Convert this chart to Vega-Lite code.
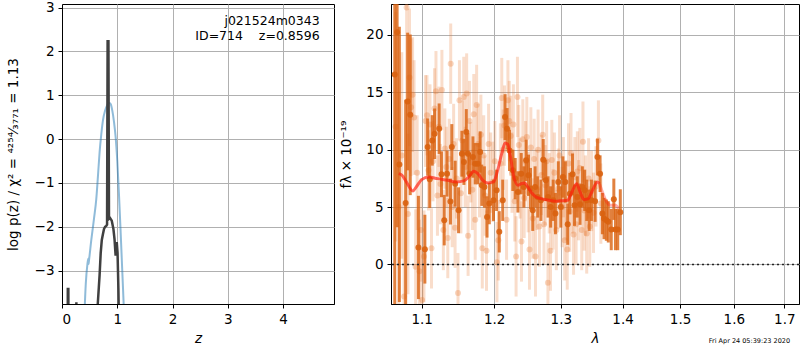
{
  "$schema": "https://vega.github.io/schema/vega-lite/v6.json",
  "background": "white",
  "padding": {"left": 5, "top": 0, "right": 0, "bottom": 0},
  "spacing": 57,
  "bounds": "flush",
  "config": {
    "font": "DejaVu Sans",
    "view": {"stroke": "black", "strokeWidth": 1},
    "axis": {
      "grid": true, "gridColor": "#b0b0b0", "gridWidth": 1,
      "domain": true, "domainColor": "black",
      "tickColor": "black", "tickSize": 4, "tickWidth": 1,
      "labelFont": "DejaVu Sans", "labelFontSize": 13.5, "labelColor": "black", "labelPadding": 4,
      "titleFont": "DejaVu Sans", "titleFontSize": 13.5, "titleFontWeight": "normal", "titleColor": "black"
    }
  },
  "datasets": {
    "chi2": [
      {"z": 0.40, "lp": -4.2}, {"z": 0.43, "lp": -3.3}, {"z": 0.46, "lp": -2.85}, {"z": 0.475, "lp": -2.73},
      {"z": 0.48, "lp": -2.85}, {"z": 0.49, "lp": -2.75}, {"z": 0.53, "lp": -2.3}, {"z": 0.58, "lp": -1.8},
      {"z": 0.62, "lp": -1.37}, {"z": 0.65, "lp": -0.85}, {"z": 0.68, "lp": -0.3}, {"z": 0.71, "lp": 0.1},
      {"z": 0.74, "lp": 0.42}, {"z": 0.78, "lp": 0.65}, {"z": 0.82, "lp": 0.78}, {"z": 0.85, "lp": 0.83},
      {"z": 0.88, "lp": 0.8}, {"z": 0.91, "lp": 0.65}, {"z": 0.94, "lp": 0.4}, {"z": 0.97, "lp": 0.05},
      {"z": 1.0, "lp": -0.5}, {"z": 1.03, "lp": -1.25}, {"z": 1.06, "lp": -2.1}, {"z": 1.09, "lp": -3.0},
      {"z": 1.12, "lp": -3.9}, {"z": 1.15, "lp": -4.8}
    ],
    "pz": [
      {"z": 0.0, "lp": -10}, {"z": 0.095, "lp": -10}, {"z": 0.105, "lp": -3.42}, {"z": 0.115, "lp": -3.42},
      {"z": 0.125, "lp": -10}, {"z": 0.24, "lp": -10}, {"z": 0.26, "lp": -3.72}, {"z": 0.28, "lp": -10},
      {"z": 0.6, "lp": -10}, {"z": 0.64, "lp": -3.9}, {"z": 0.68, "lp": -3.1}, {"z": 0.70, "lp": -2.6},
      {"z": 0.72, "lp": -2.3}, {"z": 0.74, "lp": -2.17}, {"z": 0.76, "lp": -2.05}, {"z": 0.78, "lp": -2.0},
      {"z": 0.80, "lp": -1.98}, {"z": 0.815, "lp": -1.95}, {"z": 0.825, "lp": 2.23}, {"z": 0.84, "lp": 2.23},
      {"z": 0.85, "lp": -1.82}, {"z": 0.87, "lp": -1.8}, {"z": 0.90, "lp": -1.86}, {"z": 0.93, "lp": -2.05},
      {"z": 0.95, "lp": -2.28}, {"z": 0.97, "lp": -2.66}, {"z": 0.98, "lp": -2.4}, {"z": 0.99, "lp": -2.35},
      {"z": 1.005, "lp": -2.6}, {"z": 1.02, "lp": -3.4}, {"z": 1.04, "lp": -5}, {"z": 1.2, "lp": -10},
      {"z": 5.0, "lp": -10}
    ],
    "labels": [
      {"z": 4.66, "lp": 2.69, "text": "j021524m0343"},
      {"z": 4.66, "lp": 2.355, "text": "ID=714\u00a0\u00a0\u00a0\u00a0z=0.8596"}
    ],
    "dark": [
      {"lam": 1.065, "f": 16.55, "e": 20}, {"lam": 1.068, "f": 20.23, "e": 17}, {"lam": 1.0709, "f": 8.72, "e": 12},
      {"lam": 1.079, "f": 5.36, "e": 9}, {"lam": 1.0816, "f": 14.2, "e": 6}, {"lam": 1.085, "f": 13.04, "e": 7},
      {"lam": 1.0957, "f": 1.48, "e": 4.5}, {"lam": 1.1042, "f": 1.33, "e": 3}, {"lam": 1.1079, "f": 10.23, "e": 2.5},
      {"lam": 1.1107, "f": 7.42, "e": 2.5}, {"lam": 1.114, "f": 10.81, "e": 2.2}, {"lam": 1.1172, "f": 11.39, "e": 2.2},
      {"lam": 1.1233, "f": 11.83, "e": 2.2}, {"lam": 1.1265, "f": 7.86, "e": 2}, {"lam": 1.1302, "f": 3.86, "e": 2.2},
      {"lam": 1.134, "f": 7.91, "e": 2}, {"lam": 1.1386, "f": 5.48, "e": 2}, {"lam": 1.1405, "f": 10.23, "e": 2},
      {"lam": 1.1451, "f": 7.04, "e": 2}, {"lam": 1.1498, "f": 4.72, "e": 2}, {"lam": 1.1544, "f": 9.65, "e": 2},
      {"lam": 1.1572, "f": 8.93, "e": 2}, {"lam": 1.1605, "f": 11.54, "e": 2}, {"lam": 1.1628, "f": 9.65, "e": 1.8},
      {"lam": 1.1651, "f": 7.91, "e": 1.8}, {"lam": 1.1698, "f": 9.36, "e": 1.8}, {"lam": 1.173, "f": 8.78, "e": 1.8},
      {"lam": 1.1767, "f": 8.78, "e": 1.8}, {"lam": 1.18, "f": 9.8, "e": 1.8}, {"lam": 1.1823, "f": 6.9, "e": 1.8},
      {"lam": 1.186, "f": 6.75, "e": 1.8}, {"lam": 1.1898, "f": 4.14, "e": 1.8}, {"lam": 1.193, "f": 5.3, "e": 1.8},
      {"lam": 1.199, "f": 5.59, "e": 1.8}, {"lam": 1.2035, "f": 6.46, "e": 1.8}, {"lam": 1.2074, "f": 2.84, "e": 1.8},
      {"lam": 1.2124, "f": 5.59, "e": 1.8}, {"lam": 1.2158, "f": 12.84, "e": 2}, {"lam": 1.2188, "f": 11.83, "e": 1.8},
      {"lam": 1.2223, "f": 9.94, "e": 1.8}, {"lam": 1.2272, "f": 8.2, "e": 1.8}, {"lam": 1.2307, "f": 7.48, "e": 1.8},
      {"lam": 1.2347, "f": 6.32, "e": 1.8}, {"lam": 1.2396, "f": 7.91, "e": 1.8}, {"lam": 1.2436, "f": 6.75, "e": 1.8},
      {"lam": 1.247, "f": 9.07, "e": 1.8}, {"lam": 1.2505, "f": 7.77, "e": 1.8}, {"lam": 1.2535, "f": 6.61, "e": 1.8},
      {"lam": 1.2569, "f": 4.72, "e": 1.8}, {"lam": 1.2604, "f": 6.75, "e": 1.8}, {"lam": 1.2644, "f": 5.88, "e": 1.8},
      {"lam": 1.2693, "f": 5.59, "e": 1.8}, {"lam": 1.2728, "f": 9.13, "e": 1.8}, {"lam": 1.2767, "f": 7.33, "e": 1.8},
      {"lam": 1.2802, "f": 5.88, "e": 1.8}, {"lam": 1.2842, "f": 5.01, "e": 1.8}, {"lam": 1.2881, "f": 5.59, "e": 1.8},
      {"lam": 1.2916, "f": 4.43, "e": 1.8}, {"lam": 1.296, "f": 7.19, "e": 1.8}, {"lam": 1.3, "f": 5.01, "e": 1.8},
      {"lam": 1.3032, "f": 7.62, "e": 1.8}, {"lam": 1.307, "f": 7.19, "e": 1.8}, {"lam": 1.3108, "f": 3.51, "e": 1.8},
      {"lam": 1.3141, "f": 6.17, "e": 1.8}, {"lam": 1.3184, "f": 7.86, "e": 1.8}, {"lam": 1.3216, "f": 5.16, "e": 1.8},
      {"lam": 1.3259, "f": 5.88, "e": 1.8}, {"lam": 1.3303, "f": 5.25, "e": 1.8}, {"lam": 1.3341, "f": 6.75, "e": 1.8},
      {"lam": 1.3378, "f": 6.46, "e": 1.8}, {"lam": 1.3411, "f": 5.59, "e": 1.8}, {"lam": 1.3449, "f": 4.72, "e": 1.8},
      {"lam": 1.3486, "f": 5.59, "e": 1.8}, {"lam": 1.3546, "f": 5.51, "e": 1.8}, {"lam": 1.3584, "f": 9.36, "e": 1.6},
      {"lam": 1.3627, "f": 7.91, "e": 1.6}, {"lam": 1.3665, "f": 4.43, "e": 1.8}, {"lam": 1.3692, "f": 4.0, "e": 1.8},
      {"lam": 1.373, "f": 3.86, "e": 1.8}, {"lam": 1.3762, "f": 3.71, "e": 1.8}, {"lam": 1.3811, "f": 3.04, "e": 1.8},
      {"lam": 1.3854, "f": 5.68, "e": 1.8}, {"lam": 1.3881, "f": 3.04, "e": 1.8}, {"lam": 1.3919, "f": 3.04, "e": 1.8},
      {"lam": 1.3962, "f": 4.55, "e": 2.0}
    ],
    "light": [
      {"lam": 1.066, "f": 12.0, "e": 10}, {"lam": 1.070, "f": 5.0, "e": 10}, {"lam": 1.074, "f": 9.5, "e": 9},
      {"lam": 1.077, "f": -2.8, "e": 8}, {"lam": 1.0803, "f": 22.4, "e": 8}, {"lam": 1.082, "f": 4.4, "e": 7},
      {"lam": 1.084, "f": 16.3, "e": 6}, {"lam": 1.086, "f": 13.7, "e": 6}, {"lam": 1.088, "f": 14.8, "e": 5},
      {"lam": 1.090, "f": 12.8, "e": 5}, {"lam": 1.092, "f": -0.2, "e": 5}, {"lam": 1.094, "f": 8.0, "e": 5},
      {"lam": 1.097, "f": -0.6, "e": 4.5}, {"lam": 1.099, "f": 3.0, "e": 4.5}, {"lam": 1.1005, "f": -3.1, "e": 4.5},
      {"lam": 1.103, "f": 0.7, "e": 4}, {"lam": 1.105, "f": 12.5, "e": 4},
      {"lam": 1.107, "f": 13.0, "e": 3.5}, {"lam": 1.109, "f": 8.2, "e": 3.5}, {"lam": 1.111, "f": 12.2, "e": 3.5},
      {"lam": 1.113, "f": 1.4, "e": 3.5}, {"lam": 1.115, "f": 9.0, "e": 3.5}, {"lam": 1.117, "f": 13.6, "e": 3.5},
      {"lam": 1.119, "f": 15.1, "e": 3.5}, {"lam": 1.121, "f": 6.0, "e": 3.5}, {"lam": 1.123, "f": 12.0, "e": 3.5},
      {"lam": 1.125, "f": 7.0, "e": 3.5}, {"lam": 1.127, "f": 15.2, "e": 3.5}, {"lam": 1.129, "f": 3.0, "e": 3.5},
      {"lam": 1.131, "f": 10.1, "e": 3.5}, {"lam": 1.133, "f": 8.5, "e": 3.5}, {"lam": 1.135, "f": 2.3, "e": 3.5},
      {"lam": 1.137, "f": 9.2, "e": 3.5}, {"lam": 1.139, "f": 17.5, "e": 3.5}, {"lam": 1.141, "f": 5.0, "e": 3.5},
      {"lam": 1.143, "f": 10.5, "e": 3.5}, {"lam": 1.145, "f": 3.2, "e": 3.5}, {"lam": 1.147, "f": 7.5, "e": 3.5},
      {"lam": 1.149, "f": -2.5, "e": 3.5}, {"lam": 1.151, "f": 14.3, "e": 3.5}, {"lam": 1.153, "f": 6.2, "e": 3.5},
      {"lam": 1.155, "f": 10.8, "e": 3.5}, {"lam": 1.157, "f": 14.6, "e": 3.5}, {"lam": 1.159, "f": 8.5, "e": 3.5},
      {"lam": 1.161, "f": 14.9, "e": 3.5}, {"lam": 1.163, "f": 2.5, "e": 3.5}, {"lam": 1.165, "f": 12.5, "e": 3.5},
      {"lam": 1.167, "f": 8.9, "e": 3.5}, {"lam": 1.169, "f": 6.5, "e": 3.5}, {"lam": 1.171, "f": 13.1, "e": 3.5},
      {"lam": 1.173, "f": 3.9, "e": 3.5}, {"lam": 1.175, "f": 13.9, "e": 3.5}, {"lam": 1.177, "f": 10.5, "e": 3.5},
      {"lam": 1.179, "f": 7.6, "e": 3.5}, {"lam": 1.181, "f": 11.3, "e": 3.5}, {"lam": 1.183, "f": 1.4, "e": 3.5},
      {"lam": 1.185, "f": 9.5, "e": 3.5}, {"lam": 1.187, "f": 6.0, "e": 3.5}, {"lam": 1.189, "f": 1.2, "e": 3.5},
      {"lam": 1.192, "f": 10.5, "e": 3.5}, {"lam": 1.195, "f": 8.0, "e": 3.5}, {"lam": 1.198, "f": 7.2, "e": 3.5},
      {"lam": 1.201, "f": 9.0, "e": 3.5}, {"lam": 1.204, "f": 0.2, "e": 3.5}, {"lam": 1.206, "f": 2.1, "e": 3.5},
      {"lam": 1.209, "f": 8.8, "e": 3.5}, {"lam": 1.211, "f": 14.5, "e": 3.5}, {"lam": 1.213, "f": 10.0, "e": 3.5},
      {"lam": 1.215, "f": 12.1, "e": 3.5}, {"lam": 1.218, "f": 3.9, "e": 3.5}, {"lam": 1.220, "f": 14.3, "e": 3.5},
      {"lam": 1.222, "f": 12.5, "e": 3.5}, {"lam": 1.224, "f": 11.2, "e": 3.5}, {"lam": 1.226, "f": 8.0, "e": 3.5},
      {"lam": 1.228, "f": 12.2, "e": 3.5}, {"lam": 1.230, "f": 5.5, "e": 3.5}, {"lam": 1.232, "f": 0.7, "e": 3.5},
      {"lam": 1.234, "f": 14.6, "e": 3.5}, {"lam": 1.236, "f": 10.4, "e": 3.5}, {"lam": 1.238, "f": 7.5, "e": 3.5},
      {"lam": 1.240, "f": 2.0, "e": 3.5}, {"lam": 1.242, "f": 10.9, "e": 3.5}, {"lam": 1.244, "f": 5.8, "e": 3.5},
      {"lam": 1.246, "f": 9.0, "e": 3.5}, {"lam": 1.248, "f": 11.1, "e": 3.5}, {"lam": 1.250, "f": 6.3, "e": 3.5},
      {"lam": 1.252, "f": 1.3, "e": 3.5}, {"lam": 1.254, "f": 10.2, "e": 3.5}, {"lam": 1.257, "f": 4.0, "e": 3.5},
      {"lam": 1.259, "f": 9.2, "e": 3.5}, {"lam": 1.261, "f": 0.7, "e": 3.5}, {"lam": 1.263, "f": 6.5, "e": 3.5},
      {"lam": 1.265, "f": 10.0, "e": 3.5}, {"lam": 1.267, "f": 3.3, "e": 3.5}, {"lam": 1.270, "f": 7.8, "e": 3.5},
      {"lam": 1.272, "f": 11.3, "e": 3.5}, {"lam": 1.274, "f": 3.5, "e": 3.5}, {"lam": 1.276, "f": 6.9, "e": 3.5},
      {"lam": 1.278, "f": 9.0, "e": 3.5}, {"lam": 1.280, "f": -1.6, "e": 3.5}, {"lam": 1.282, "f": 6.2, "e": 3.5},
      {"lam": 1.284, "f": 1.2, "e": 3.5}, {"lam": 1.286, "f": 9.1, "e": 3.5}, {"lam": 1.288, "f": 4.8, "e": 3.5},
      {"lam": 1.290, "f": 8.0, "e": 3.5}, {"lam": 1.293, "f": 3.0, "e": 3.5}, {"lam": 1.296, "f": 6.6, "e": 3.5},
      {"lam": 1.298, "f": 9.5, "e": 3.5}, {"lam": 1.302, "f": 5.0, "e": 3.5}, {"lam": 1.304, "f": 7.6, "e": 3.5},
      {"lam": 1.306, "f": 2.1, "e": 3.5}, {"lam": 1.308, "f": 5.6, "e": 3.5}, {"lam": 1.310, "f": 1.3, "e": 3.5},
      {"lam": 1.312, "f": 8.8, "e": 3.5}, {"lam": 1.314, "f": 4.6, "e": 3.5}, {"lam": 1.316, "f": 9.7, "e": 3.5},
      {"lam": 1.318, "f": 6.2, "e": 3.5}, {"lam": 1.320, "f": 2.6, "e": 3.5}, {"lam": 1.322, "f": 7.6, "e": 3.5},
      {"lam": 1.324, "f": 3.5, "e": 3.5}, {"lam": 1.326, "f": 8.1, "e": 3.5}, {"lam": 1.328, "f": 5.6, "e": 3.5},
      {"lam": 1.330, "f": 8.4, "e": 3.5}, {"lam": 1.333, "f": 3.0, "e": 3.5}, {"lam": 1.335, "f": 10.7, "e": 3.5},
      {"lam": 1.337, "f": 4.7, "e": 3.5}, {"lam": 1.339, "f": 6.0, "e": 3.5}, {"lam": 1.341, "f": 2.7, "e": 3.5},
      {"lam": 1.344, "f": 7.5, "e": 3.5}, {"lam": 1.346, "f": 3.3, "e": 3.5}, {"lam": 1.349, "f": 6.4, "e": 3.5},
      {"lam": 1.352, "f": 4.5, "e": 3.5}, {"lam": 1.356, "f": 6.8, "e": 3.5}, {"lam": 1.360, "f": 10.8, "e": 3.5},
      {"lam": 1.364, "f": 5.3, "e": 3.5}
    ],
    "model": [
      {"lam": 1.0701, "f": 7.91}, {"lam": 1.0743, "f": 7.77}, {"lam": 1.0799, "f": 7.19}, {"lam": 1.0884, "f": 6.41},
      {"lam": 1.0928, "f": 6.75}, {"lam": 1.1, "f": 7.39}, {"lam": 1.1093, "f": 7.62}, {"lam": 1.1209, "f": 7.48},
      {"lam": 1.1349, "f": 7.33}, {"lam": 1.1465, "f": 7.19}, {"lam": 1.1572, "f": 7.28}, {"lam": 1.1637, "f": 7.62},
      {"lam": 1.1712, "f": 8.12}, {"lam": 1.1767, "f": 7.91}, {"lam": 1.1837, "f": 7.33}, {"lam": 1.1907, "f": 7.1},
      {"lam": 1.199, "f": 7.19}, {"lam": 1.205, "f": 8.2}, {"lam": 1.2109, "f": 9.65}, {"lam": 1.2158, "f": 10.58},
      {"lam": 1.2198, "f": 10.46}, {"lam": 1.2238, "f": 9.36}, {"lam": 1.2287, "f": 7.62}, {"lam": 1.2347, "f": 6.9},
      {"lam": 1.2396, "f": 7.04}, {"lam": 1.2446, "f": 7.1}, {"lam": 1.2495, "f": 6.75}, {"lam": 1.2554, "f": 6.23},
      {"lam": 1.2619, "f": 5.88}, {"lam": 1.2693, "f": 5.74}, {"lam": 1.2817, "f": 5.59}, {"lam": 1.2916, "f": 5.51},
      {"lam": 1.299, "f": 5.54}, {"lam": 1.3108, "f": 5.59}, {"lam": 1.3162, "f": 6.17}, {"lam": 1.3249, "f": 7.04},
      {"lam": 1.3303, "f": 6.32}, {"lam": 1.3368, "f": 5.65}, {"lam": 1.3432, "f": 5.71}, {"lam": 1.3492, "f": 6.32},
      {"lam": 1.3584, "f": 7.19}, {"lam": 1.3616, "f": 7.04}
    ],
    "modeltail": [
      {"lam": 1.3616, "f": 7.04}, {"lam": 1.3665, "f": 6.32}, {"lam": 1.3735, "f": 5.45}, {"lam": 1.38, "f": 5.16},
      {"lam": 1.3881, "f": 5.16}, {"lam": 1.3935, "f": 4.87}
    ],
    "zero": [{"f": 0}],
    "stamp": [{"lam": 1.7118, "f": -6.67, "text": "Fri Apr 24 05:39:23 2020"}]
  },
  "hconcat": [
    {
      "width": 272, "height": 300,
      "encoding": {
        "x": {"field": "z", "type": "quantitative", "title": "z", "scale": {"domain": [0, 4.92], "nice": false, "zero": false},
              "axis": {"values": [0, 1, 2, 3, 4], "format": "d", "titleFontStyle": "italic", "titlePadding": 6}},
        "y": {"field": "lp", "type": "quantitative", "title": "log p(z) / χ² = ⁴²⁵⁴⁄₃₇₇₁ = 1.13", "scale": {"domain": [-3.76, 3.08], "nice": false, "zero": false},
              "axis": {"values": [-3, -2, -1, 0, 1, 2, 3], "format": "d", "titlePadding": 14}}
      },
      "layer": [
        {
          "data": {"name": "chi2"},
          "mark": {"type": "line", "clip": true, "color": "#1f77b4", "opacity": 0.5, "strokeWidth": 2, "interpolate": "monotone"}
        },
        {
          "data": {"name": "pz"},
          "mark": {"type": "line", "clip": true, "color": "#404040", "strokeWidth": 2.5}
        },
        {
          "data": {"name": "labels"},
          "mark": {"type": "text", "align": "right", "baseline": "middle", "fontSize": 12.5, "color": "black", "font": "DejaVu Sans"},
          "encoding": {"text": {"field": "text"}}
        }
      ]
    },
    {
      "width": 408, "height": 300,
      "encoding": {
        "x": {"field": "lam", "type": "quantitative", "title": "λ", "scale": {"type": "log", "domain": [1.0602, 1.7303], "nice": false, "zero": false},
              "axis": {"values": [1.1, 1.2, 1.3, 1.4, 1.5, 1.6, 1.7], "format": ".1f", "titleFontStyle": "italic", "titlePadding": 6}},
        "y": {"field": "f", "type": "quantitative", "title": "fλ × 10⁻¹⁹", "scale": {"domain": [-3.45, 22.7], "nice": false, "zero": false},
              "axis": {"values": [0, 5, 10, 15, 20], "format": "d", "titlePadding": 12}}
      },
      "layer": [
        {
          "data": {"name": "light"},
          "mark": {"type": "errorbar", "clip": true, "color": "#e8782e", "opacity": 0.25, "thickness": 3},
          "encoding": {"yError": {"field": "e"}}
        },
        {
          "data": {"name": "light"},
          "mark": {"type": "circle", "clip": true, "color": "#e8782e", "opacity": 0.3, "size": 36}
        },
        {
          "data": {"name": "dark"},
          "mark": {"type": "errorbar", "clip": true, "color": "#d9620f", "opacity": 0.8, "thickness": 3},
          "encoding": {"yError": {"field": "e"}}
        },
        {
          "data": {"name": "dark"},
          "mark": {"type": "circle", "clip": true, "color": "#d9620f", "opacity": 0.9, "size": 36}
        },
        {
          "data": {"name": "model"},
          "mark": {"type": "line", "clip": true, "color": "#ff1a0a", "opacity": 0.65, "strokeWidth": 3, "interpolate": "monotone"}
        },
        {
          "data": {"name": "modeltail"},
          "mark": {"type": "line", "clip": true, "color": "#ff1a0a", "opacity": 0.35, "strokeWidth": 3, "interpolate": "monotone"}
        },
        {
          "data": {"name": "zero"},
          "mark": {"type": "rule", "color": "#222222", "strokeWidth": 1.5, "strokeDash": [2, 3]},
          "encoding": {"x": null, "y": {"field": "f", "type": "quantitative"}}
        },
        {
          "data": {"name": "stamp"},
          "mark": {"type": "text", "align": "right", "baseline": "middle", "fontSize": 6.5, "color": "black", "font": "DejaVu Sans"},
          "encoding": {"text": {"field": "text"}}
        }
      ]
    }
  ]
}
